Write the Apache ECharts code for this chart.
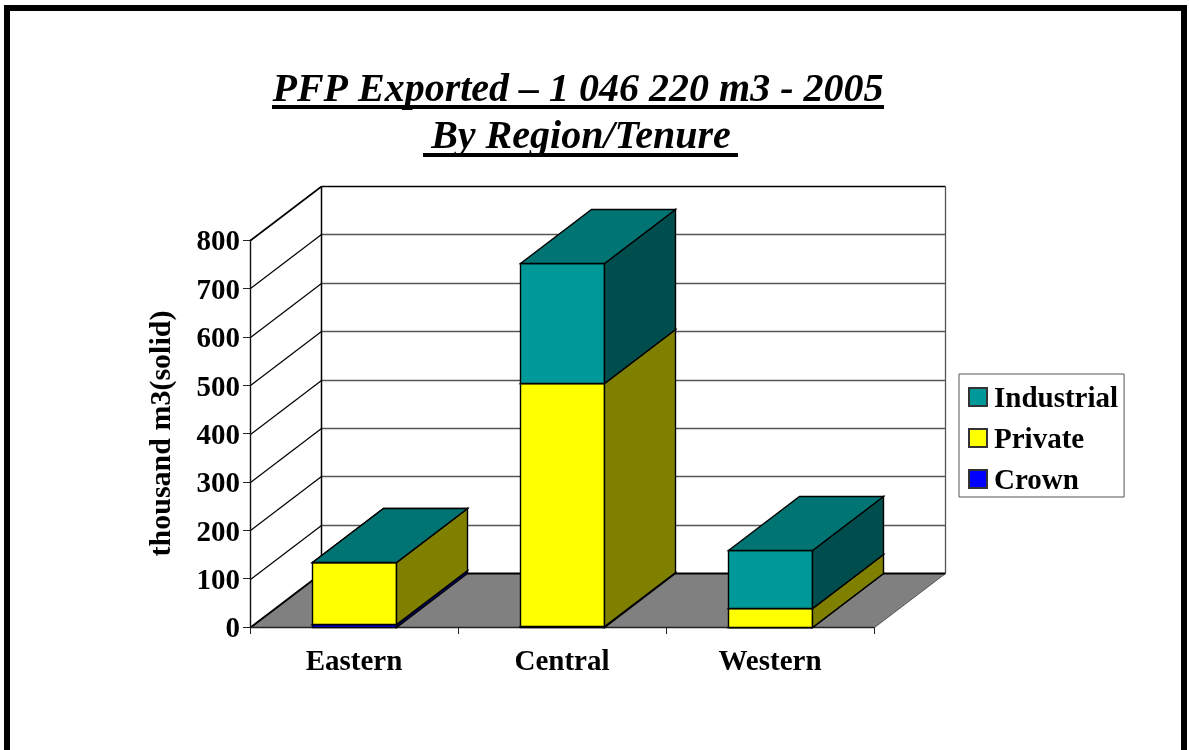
<!DOCTYPE html>
<html>
<head>
<meta charset="utf-8">
<style>html,body{margin:0;padding:0;background:#fff;overflow:hidden}#c{width:1189px;height:750px}</style>
<script src="https://cdn.jsdelivr.net/npm/echarts@6/dist/echarts.min.js"></script>
</head>
<body>
<div id="c"></div>
<script>
const categories = ['Eastern', 'Central', 'Western'];
const crown = [6, 3, 0];
const privateLand = [129, 501, 39];
const industrial = [0, 248, 120];
const yTicks = [0, 100, 200, 300, 400, 500, 600, 700, 800];

const FONT = '"Liberation Serif","Times New Roman",serif';
const DX = 71, DY = -54, BAR_RATIO = 0.401;
const px = v => Math.round(v) + 0.5;
const P = (x, y) => [px(x), px(y)];
const boldText = { fontFamily: FONT, fontSize: 29, fontWeight: 'bold', color: '#000' };

function poly(points, fill, stroke, lw) {
  return { type: 'polygon', shape: { points },
    style: { fill, stroke: stroke || '#000', lineWidth: lw || 1.4 } };
}
function line(a, b, stroke, lw) {
  return { type: 'line', shape: { x1: a[0], y1: a[1], x2: b[0], y2: b[1] },
    style: { stroke, lineWidth: lw || 1, fill: 'none' } };
}

function wallItem(params, api) {
  const v = api.value(1);
  const cs = params.coordSys;
  const l = cs.x, r = cs.x + cs.width;
  const y = api.coord([0, v])[1];
  const kids = [];
  if (v === yTicks[0]) {
    kids.push(poly([P(l, y), P(r, y), P(r + DX, y + DY), P(l + DX, y + DY)], '#808080', '#555', 1));
    kids.push(line(P(l, y), P(l + DX, y + DY), '#000', 2));
    kids.push(line(P(l + DX, y + DY), P(r + DX, y + DY), '#000', 2));
  } else {
    const top = v === yTicks[yTicks.length - 1];
    kids.push(line(P(l + DX, y + DY), P(r + DX, y + DY), top ? '#000' : '#555', top ? 1.6 : 1.3));
    kids.push(line(P(l, y), P(l + DX, y + DY), '#000', top ? 1.6 : 1.2));
  }
  if (v === yTicks[yTicks.length - 1]) {
    const y0 = api.coord([0, yTicks[0]])[1];
    kids.push(line(P(l + DX, y + DY), P(l + DX, y0 + DY), '#000', 1.5));
    kids.push(line(P(r + DX, y + DY), P(r + DX, y0 + DY), '#555', 1.3));
  }
  return { type: 'group', children: kids };
}

function barRenderer(front, side, top) {
  return function (params, api) {
    const i = api.value(0), base = api.value(1), end = api.value(2);
    const c = api.coord([i, base]), d = api.coord([i, end]);
    const w = api.size([1, 0])[0] * BAR_RATIO;
    const x0 = c[0] - w / 2, x1 = c[0] + w / 2, yb = c[1], yt = d[1];
    return { type: 'group', children: [
      poly([P(x0, yt), P(x1, yt), P(x1, yb), P(x0, yb)], front),
      poly([P(x1, yt), P(x1 + DX, yt + DY), P(x1 + DX, yb + DY), P(x1, yb)], side),
      poly([P(x0, yt), P(x1, yt), P(x1 + DX, yt + DY), P(x0 + DX, yt + DY)], top)
    ] };
  };
}

function stacked(values, below) {
  return values.map((v, i) => {
    const b = below.reduce((s, a) => s + a[i], 0);
    return [i, b, b + v];
  });
}

function barSeries(name, values, below, front, side, top) {
  return {
    type: 'custom', name, z: 3, silent: true,
    coordinateSystem: 'cartesian2d',
    encode: { x: 0, y: [1, 2] },
    itemStyle: { color: front, borderColor: '#333', borderWidth: 1 },
    renderItem: barRenderer(front, side, top),
    data: stacked(values, below)
  };
}

const chart = echarts.init(document.getElementById('c'), null, { renderer: 'canvas' });
chart.setOption({
  animation: false,
  backgroundColor: '#fff',
  title: [
    { text: 'PFP Exported – 1 046 220 m3 - 2005', left: 578, top: 71, textAlign: 'center', padding: 0,
      textStyle: { fontFamily: FONT, fontSize: 40, fontWeight: 'bold', fontStyle: 'italic', color: '#000' } },
    { text: 'By Region/Tenure', left: 581, top: 118, textAlign: 'center', padding: 0,
      textStyle: { fontFamily: FONT, fontSize: 40, fontWeight: 'bold', fontStyle: 'italic', color: '#000' } }
  ],
  graphic: [
    { type: 'rect', shape: { x: 7, y: 8, width: 1177, height: 800 },
      style: { fill: 'none', stroke: '#000', lineWidth: 6 } },
    { type: 'rect', shape: { x: 272, y: 105, width: 612, height: 4 }, style: { fill: '#000' } },
    { type: 'rect', shape: { x: 423, y: 153, width: 315, height: 4 }, style: { fill: '#000' } }
  ],
  legend: {
    orient: 'vertical', left: 959, top: 374, icon: 'rect',
    padding: [11, 6, 1, 9], itemGap: 12, itemWidth: 18, itemHeight: 18,
    borderColor: '#555', borderWidth: 1, backgroundColor: '#fff',
    selectedMode: false,
    data: ['Industrial', 'Private', 'Crown'],
    formatter: '{t|{name}}',
    textStyle: Object.assign({}, boldText, { padding: [5, 0, 0, 2], rich: { t: boldText } })
  },
  grid: { left: 250, top: 240, width: 624, height: 387 },
  xAxis: {
    type: 'category', data: categories, z: 2.5,
    axisLine: { lineStyle: { color: '#222', width: 1.4 } },
    axisTick: { show: true, length: 7, alignWithLabel: false, lineStyle: { color: '#222' } },
    axisLabel: Object.assign({ margin: 21 }, boldText),
    splitLine: { show: false }
  },
  yAxis: {
    type: 'value', min: 0, max: 800, interval: 100, z: 2.5,
    name: 'thousand m3(solid)', nameLocation: 'middle', nameRotate: 90, nameGap: 73,
    nameTextStyle: { fontFamily: FONT, fontSize: 30, fontWeight: 'bold', color: '#000' },
    axisLine: { show: true, lineStyle: { color: '#111', width: 1.4 } },
    axisTick: { show: true, length: 7, lineStyle: { color: '#222' } },
    axisLabel: Object.assign({ margin: 10, formatter: '{v|{value}}', padding: [6, 0, 0, 0], rich: { v: boldText } }, boldText),
    splitLine: { show: false }
  },
  series: [
    { type: 'custom', name: 'walls', z: 1, silent: true, coordinateSystem: 'cartesian2d',
      encode: { x: 0, y: 1 }, renderItem: wallItem,
      data: yTicks.map(v => [0, v]) },
    barSeries('Crown', crown, [], '#0000FF', '#000080', '#000080'),
    barSeries('Private', privateLand, [crown], '#FFFF00', '#808000', '#808000'),
    barSeries('Industrial', industrial, [crown, privateLand], '#009999', '#004D4D', '#007373')
  ]
});
</script>
</body>
</html>
